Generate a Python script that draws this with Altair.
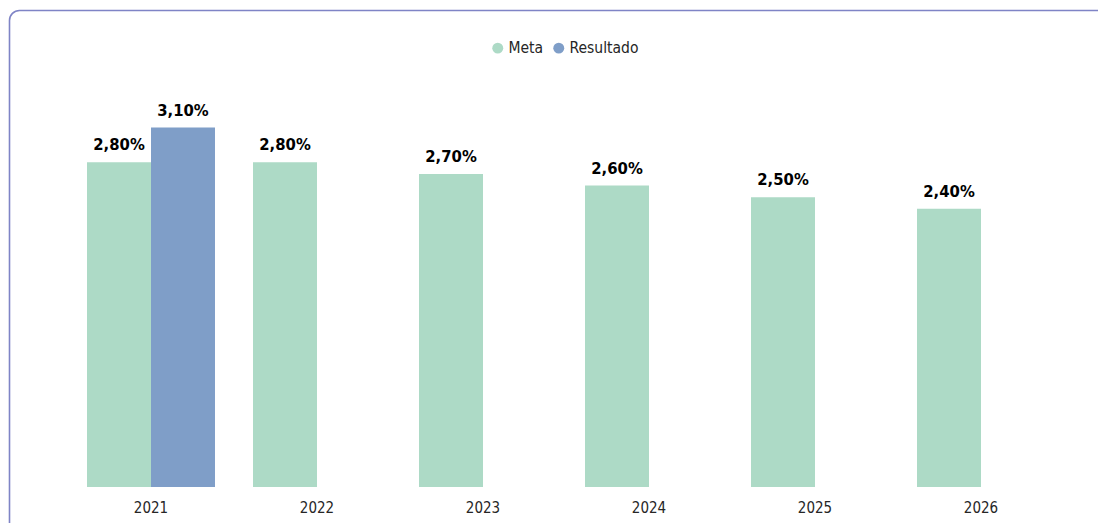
import altair as alt
import pandas as pd

years = ["2021", "2022", "2023", "2024", "2025", "2026"]
meta = [2.8, 2.8, 2.7, 2.6, 2.5, 2.4]
resultado = [3.1, None, None, None, None, None]
series = ["Meta", "Resultado"]
colors = ["#addac6", "#7f9ec8"]

rows = []
for y, m, r in zip(years, meta, resultado):
    for s, v in (("Meta", m), ("Resultado", r)):
        if v is not None:
            rows.append({"year": y, "series": s, "value": v,
                         "label": f"{v:.2f}".replace(".", ",") + "%"})
df = pd.DataFrame(rows)

FONT = "Liberation Sans Narrow, DejaVu Sans Condensed, Open Sans, sans-serif"

x = alt.X("year:N", sort=years,
          scale=alt.Scale(paddingInner=0, paddingOuter=0),
          axis=alt.Axis(title=None, labelAngle=0, ticks=False, domain=False,
                        labelPadding=13, labelFontSize=15, labelColor="#262626",
                        labelFont=FONT))
xo = alt.XOffset("series:N",
                 scale=alt.Scale(domain=series, paddingInner=0, paddingOuter=0.297))
y = alt.Y("value:Q", scale=alt.Scale(domain=[0, 3.7], nice=False), axis=None)

base = alt.Chart(df)

bars = base.mark_bar().encode(
    x=x, xOffset=xo, y=y,
    color=alt.Color("series:N",
                    scale=alt.Scale(domain=series, range=colors),
                    legend=alt.Legend(title=None, orient="none", direction="horizontal",
                                      legendX=422, legendY=-18, symbolType="circle",
                                      symbolSize=120, symbolStrokeWidth=0,
                                      labelFontSize=15.5, labelFont=FONT,
                                      labelColor="#262626", labelOffset=3,
                                      columnPadding=7)),
)

labels = base.mark_text(baseline="bottom", dy=-9, fontSize=16.5, fontWeight="bold",
                        font=FONT, color="#000000").encode(
    x=x, xOffset=xo, y=y, text="label:N"
)

border = alt.Chart(alt.Data(values=[{"a": 1}])).mark_rect(
    fill=None, filled=False, stroke="#7f84c6", strokeWidth=1.6, cornerRadius=10
).encode(
    x=alt.value(-58.5), x2=alt.value(1300), y=alt.value(-47.5), y2=alt.value(800)
)

chart = alt.layer(border, bars, labels).properties(
    width=996, height=429,
    autosize=alt.AutoSizeParams(type="none"),
    padding={"left": 60, "top": 50, "right": 34, "bottom": 36},
    background="white",
).configure_view(stroke=None)

chart.save("out.html", embed_options={"renderer": "svg", "actions": False})
